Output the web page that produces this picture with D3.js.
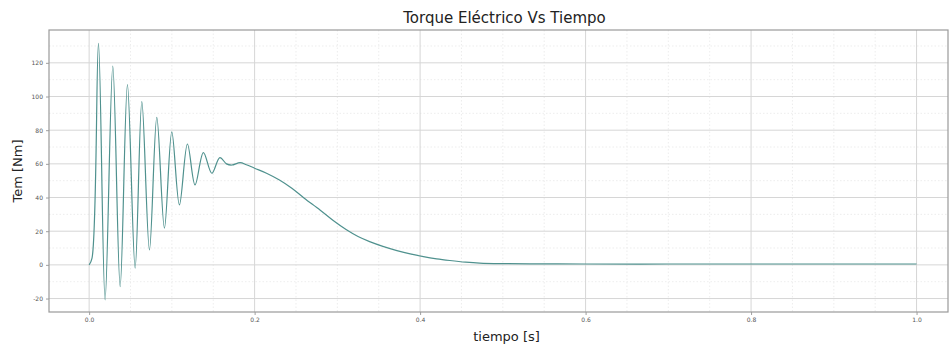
<!DOCTYPE html>
<html>
<head>
<meta charset="utf-8">
<script src="https://cdn.jsdelivr.net/npm/d3@7"></script>
<style>
  html, body { margin: 0; padding: 0; background: #ffffff; }
  svg { display: block; font-family: "DejaVu Sans", sans-serif; }
</style>
</head>
<body>
<svg id="chart" width="950" height="346"></svg>
<script>
// Electrical torque of the machine during start-up (time in s, torque in Nm)
const timeSeconds = [0, 0.0035, 0.0113, 0.0193, 0.0286, 0.0375, 0.0463, 0.0556, 0.0637, 0.0729,
  0.0818, 0.091, 0.0999, 0.1091, 0.1188, 0.128, 0.1381, 0.1483, 0.158, 0.166,
  0.1724, 0.1825, 0.19, 0.2, 0.215, 0.23, 0.245, 0.26, 0.279, 0.295,
  0.311, 0.325, 0.339, 0.355, 0.372, 0.388, 0.404, 0.42, 0.436, 0.455,
  0.472, 0.5, 0.55, 0.6, 0.7, 0.8, 0.9, 1.0];
const torqueNm = [0, 4, 131.6, -20.8, 118, -12.9, 107, -2, 97, 8.9,
  87.6, 21.8, 79, 35.6, 71.8, 47.5, 66.7, 54.4, 63.7, 60,
  59.3, 60.7, 59.5, 57.4, 54.3, 50.4, 45.5, 39.6, 32.6, 26.3,
  20.8, 16.8, 13.8, 11, 8.5, 6.5, 4.9, 3.6, 2.6, 1.6,
  1.0, 0.7, 0.6, 0.5, 0.5, 0.5, 0.5, 0.5];

const xTicks = [0, 0.2, 0.4, 0.6, 0.8, 1.0];
const xTickLabels = ["0.0", "0.2", "0.4", "0.6", "0.8", "1.0"];
const yTicks = [-20, 0, 20, 40, 60, 80, 100, 120];
const yTickLabels = ["-20", "0", "20", "40", "60", "80", "100", "120"];

const titleText = "Torque Eléctrico Vs Tiempo";
const xLabelText = "tiempo [s]";
const yLabelText = "Tem [Nm]";

const svg = d3.select("#chart");
const plotLeft = 49, plotRight = 948, plotTop = 30, plotBottom = 312;

const x = d3.scaleLinear().domain([-0.0485, 1.038]).range([plotLeft, plotRight]);
const y = d3.scaleLinear().domain([-28, 139.5]).range([plotBottom, plotTop]);

const points = timeSeconds.map((t, i) => [t, torqueNm[i]]);

// minor grid (dotted)
const minorX = d3.range(0, 1.04, 0.05).filter(v => !xTicks.some(t => Math.abs(t - v) < 1e-6));
const minorY = d3.range(-20, 140, 10).filter(v => !yTicks.includes(v));
svg.append("g").selectAll("line").data(minorX).join("line")
  .attr("x1", d => x(d)).attr("x2", d => x(d)).attr("y1", plotTop).attr("y2", plotBottom)
  .attr("stroke", "#e8e8e8").attr("stroke-width", 0.8).attr("stroke-dasharray", "1.5,2");
svg.append("g").selectAll("line").data(minorY).join("line")
  .attr("x1", plotLeft).attr("x2", plotRight).attr("y1", d => y(d)).attr("y2", d => y(d))
  .attr("stroke", "#e8e8e8").attr("stroke-width", 0.8).attr("stroke-dasharray", "1.5,2");

// major grid
svg.append("g").selectAll("line").data(xTicks).join("line")
  .attr("x1", d => x(d)).attr("x2", d => x(d)).attr("y1", plotTop).attr("y2", plotBottom)
  .attr("stroke", "#d6d6d6").attr("stroke-width", 1);
svg.append("g").selectAll("line").data(yTicks).join("line")
  .attr("x1", plotLeft).attr("x2", plotRight).attr("y1", d => y(d)).attr("y2", d => y(d))
  .attr("stroke", "#d6d6d6").attr("stroke-width", 1);

// axes
const xAxis = d3.axisBottom(x).tickValues(xTicks).tickSize(3).tickPadding(3)
  .tickFormat((d, i) => xTickLabels[i]);
const yAxis = d3.axisLeft(y).tickValues(yTicks).tickSize(3).tickPadding(3)
  .tickFormat((d, i) => yTickLabels[i]);

const gx = svg.append("g").attr("transform", `translate(0,${plotBottom})`).call(xAxis);
const gy = svg.append("g").attr("transform", `translate(${plotLeft},0)`).call(yAxis);
[gx, gy].forEach(g => {
  g.select(".domain").remove();
  g.selectAll(".tick line").attr("stroke", "#888").attr("stroke-width", 0.8);
  g.selectAll(".tick text").attr("fill", "#555").style("font-size", "6px")
    .style("font-family", "DejaVu Sans, sans-serif");
});

// frame
svg.append("rect").attr("x", plotLeft).attr("y", plotTop)
  .attr("width", plotRight - plotLeft).attr("height", plotBottom - plotTop)
  .attr("fill", "none").attr("stroke", "#9a9a9a").attr("stroke-width", 1.2);

// torque curve
const line = d3.line().x(d => x(d[0])).y(d => y(d[1])).curve(d3.curveCatmullRom.alpha(0.5));
svg.append("path").datum(points)
  .attr("d", line).attr("fill", "none")
  .attr("stroke", "#4f918e").attr("stroke-width", 1.2);

// labels
svg.append("text").attr("x", (plotLeft + plotRight) / 2 + 6).attr("y", 23)
  .attr("text-anchor", "middle").style("font-size", "15px").attr("fill", "#222")
  .text(titleText);
svg.append("text").attr("x", (plotLeft + plotRight) / 2 + 8).attr("y", 341)
  .attr("text-anchor", "middle").style("font-size", "13px").attr("fill", "#222")
  .text(xLabelText);
svg.append("text").attr("transform", `translate(22,${(plotTop + plotBottom) / 2}) rotate(-90)`)
  .attr("text-anchor", "middle").style("font-size", "13px").attr("fill", "#222")
  .text(yLabelText);
</script>
</body>
</html>
